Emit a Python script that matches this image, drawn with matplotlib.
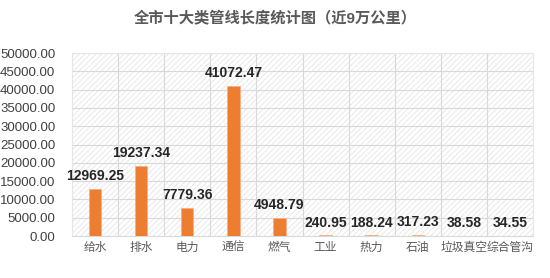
import matplotlib
matplotlib.use('Agg')
import matplotlib.pyplot as plt
import numpy as np

plt.rcParams['font.family'] = ['Liberation Sans', 'Noto Sans CJK SC', 'DejaVu Sans']
plt.rcParams['hatch.color'] = '#e0e0e0'
plt.rcParams['hatch.linewidth'] = 0.5

# 数据
categories = ['给水', '排水', '电力', '通信', '燃气', '工业', '热力', '石油', '垃圾真空', '综合管沟']
lengths = [12969.25, 19237.34, 7779.36, 41072.47, 4948.79, 240.95, 188.24, 317.23, 38.58, 34.55]
yticks = np.arange(0, 50001, 5000)

fig = plt.figure(figsize=(5.5, 2.78), dpi=100)
ax = fig.add_axes([0.131, 0.151, 0.838, 0.658])

# 斜线底纹背景
ax.patch.set_facecolor('white')
ax.patch.set_hatch('//////')
ax.patch.set_edgecolor('#e0e0e0')
ax.patch.set_linewidth(0)

x = np.arange(len(categories))
ax.bar(x, lengths, width=0.27, color='#ED7D31', edgecolor='#F4B183', linewidth=0.6, zorder=3)

for xi, v in zip(x, lengths):
    ax.annotate(f'{v:.2f}', (xi, v), xytext=(0, 4), textcoords='offset points',
                ha='center', va='bottom', fontsize=10, fontweight='bold', color='#262626', zorder=4)

ax.set_xlim(-0.5, len(categories) - 0.5)
ax.set_ylim(0, 50000)
ax.set_yticks(yticks)
ax.set_yticklabels([f'{t:.2f}' for t in yticks], fontsize=9.5, color='#404040')
ax.set_xticks(x)
ax.set_xticklabels(categories, fontsize=8.5, color='#595959')
ax.tick_params(length=0)
ax.tick_params(axis='x', pad=4)
ax.tick_params(axis='y', pad=12)

# 网格线
for t in yticks[1:]:
    ax.axhline(t, color='#d9d9d9', linewidth=0.8, zorder=1)
for b in np.arange(0.5, len(categories) - 0.5, 1):
    ax.axvline(b, color='#d9d9d9', linewidth=0.8, zorder=1)

for s in ['top', 'right', 'left']:
    ax.spines[s].set_color('#e6e6e6')
    ax.spines[s].set_linewidth(0.8)
ax.spines['bottom'].set_color('#d9d9d9')

fig.text(0.5, 0.935, '全市十大类管线长度统计图（近9万公里）', ha='center', va='center',
         fontsize=11, fontweight='bold', color='#595959')

fig.savefig('out.png', dpi=100)
